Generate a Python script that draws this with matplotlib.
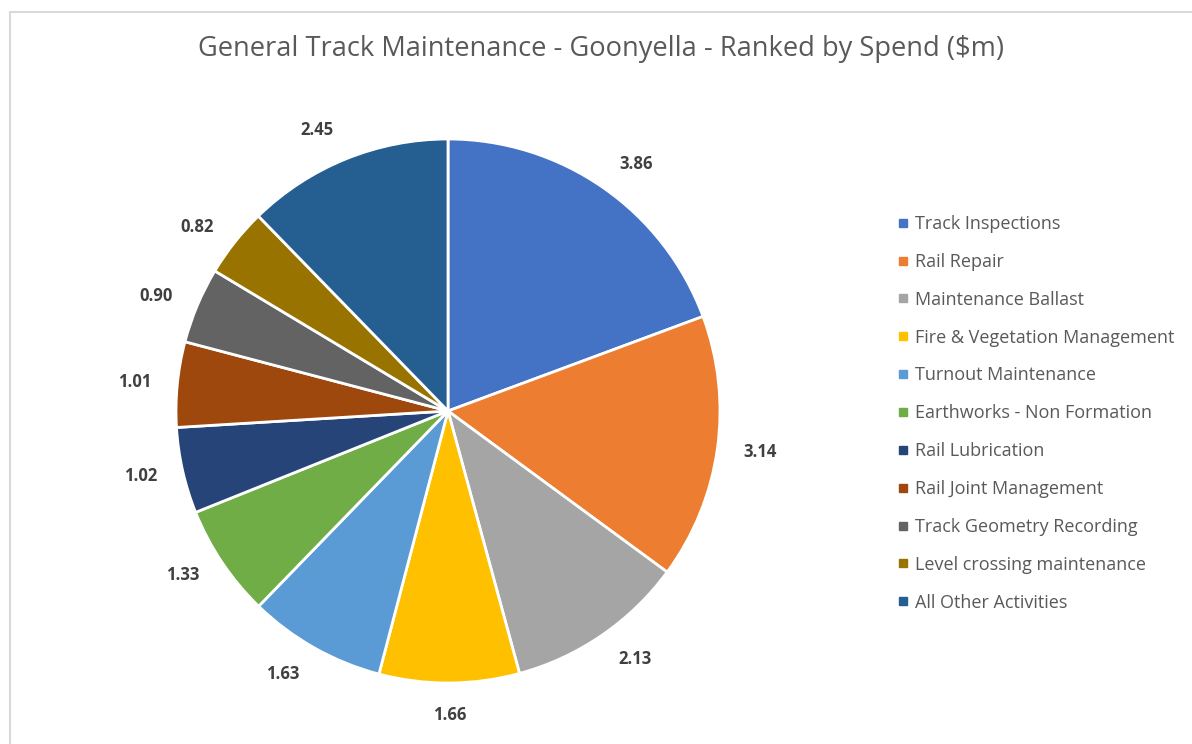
import numpy as np
import matplotlib.pyplot as plt
from matplotlib.lines import Line2D
from matplotlib.patches import Rectangle

plt.rcParams['font.family'] = ['Open Sans', 'DejaVu Sans']

activities = ["Track Inspections", "Rail Repair", "Maintenance Ballast",
              "Fire & Vegetation Management", "Turnout Maintenance",
              "Earthworks - Non Formation", "Rail Lubrication",
              "Rail Joint Management", "Track Geometry Recording",
              "Level crossing maintenance", "All Other Activities"]
spend = [3.86, 3.14, 2.13, 1.66, 1.63, 1.33, 1.02, 1.01, 0.90, 0.82, 2.45]
colors = ["#4472C4", "#ED7D31", "#A5A5A5", "#FFC000", "#5B9BD5", "#70AD47",
          "#264478", "#9E480E", "#636363", "#997300", "#255E91"]

W, H = 1192, 744
fig = plt.figure(figsize=(W / 100, H / 100), dpi=100)

# pie axes: 272 px per unit, centred at (448, 411) from top-left
cx, cy, scale = 448, H - 411, 272
hw, hh = 340, 300
ax = fig.add_axes([(cx - hw) / W, (cy - hh) / H, 2 * hw / W, 2 * hh / H])

wedges, _ = ax.pie(spend, colors=colors, startangle=90, counterclock=False,
                   wedgeprops=dict(edgecolor='white', linewidth=2))
ax.set_aspect('auto')
ax.set_xlim(-hw / scale, hw / scale)
ax.set_ylim(-hh / scale, hh / scale)
ax.axis('off')

# value labels just outside each slice; the text box is pushed sideways
# off the rim, and downward/upward only near the top and bottom
gap, half_w, half_h = 23 / scale, 20 / scale, 9 / scale
total = sum(spend)
start = 90.0
for v in spend:
    sweep = v / total * 360
    mid = np.deg2rad(start - sweep / 2)
    c, s = np.cos(mid), np.sin(mid)
    dx = half_w * np.sign(c) * min(1, abs(c) / 0.3)
    dy = half_h * np.sign(s) * np.clip((abs(s) - 0.6) / 0.4, 0, 1)
    ax.text((1 + gap) * c + dx, (1 + gap) * s + dy, f"{v:.2f}", ha='center', va='center',
            fontsize=12, fontweight='bold', color='#404040')
    start -= sweep

fig.text(601 / W, 1 - 49 / H, "General Track Maintenance - Goonyella - Ranked by Spend ($m)",
         ha='center', va='center', fontsize=19.6, color='#595959')

handles = [Line2D([], [], marker='s', linestyle='none', markersize=6,
                  markerfacecolor=c, markeredgecolor=c) for c in colors]
fig.legend(handles, activities, loc='upper left', bbox_to_anchor=(896 / W, 1 - 215 / H),
           frameon=False, fontsize=13, labelspacing=1.1, handlelength=0.8,
           handletextpad=0.25, borderpad=0, borderaxespad=0, labelcolor='#595959')

fig.patches.append(Rectangle((10 / W, -0.05), 1.2, 1 - 12 / H + 0.05, transform=fig.transFigure,
                             fill=False, edgecolor='#d9d9d9', linewidth=1.5))

fig.savefig("out.png", dpi=100, facecolor='white')
